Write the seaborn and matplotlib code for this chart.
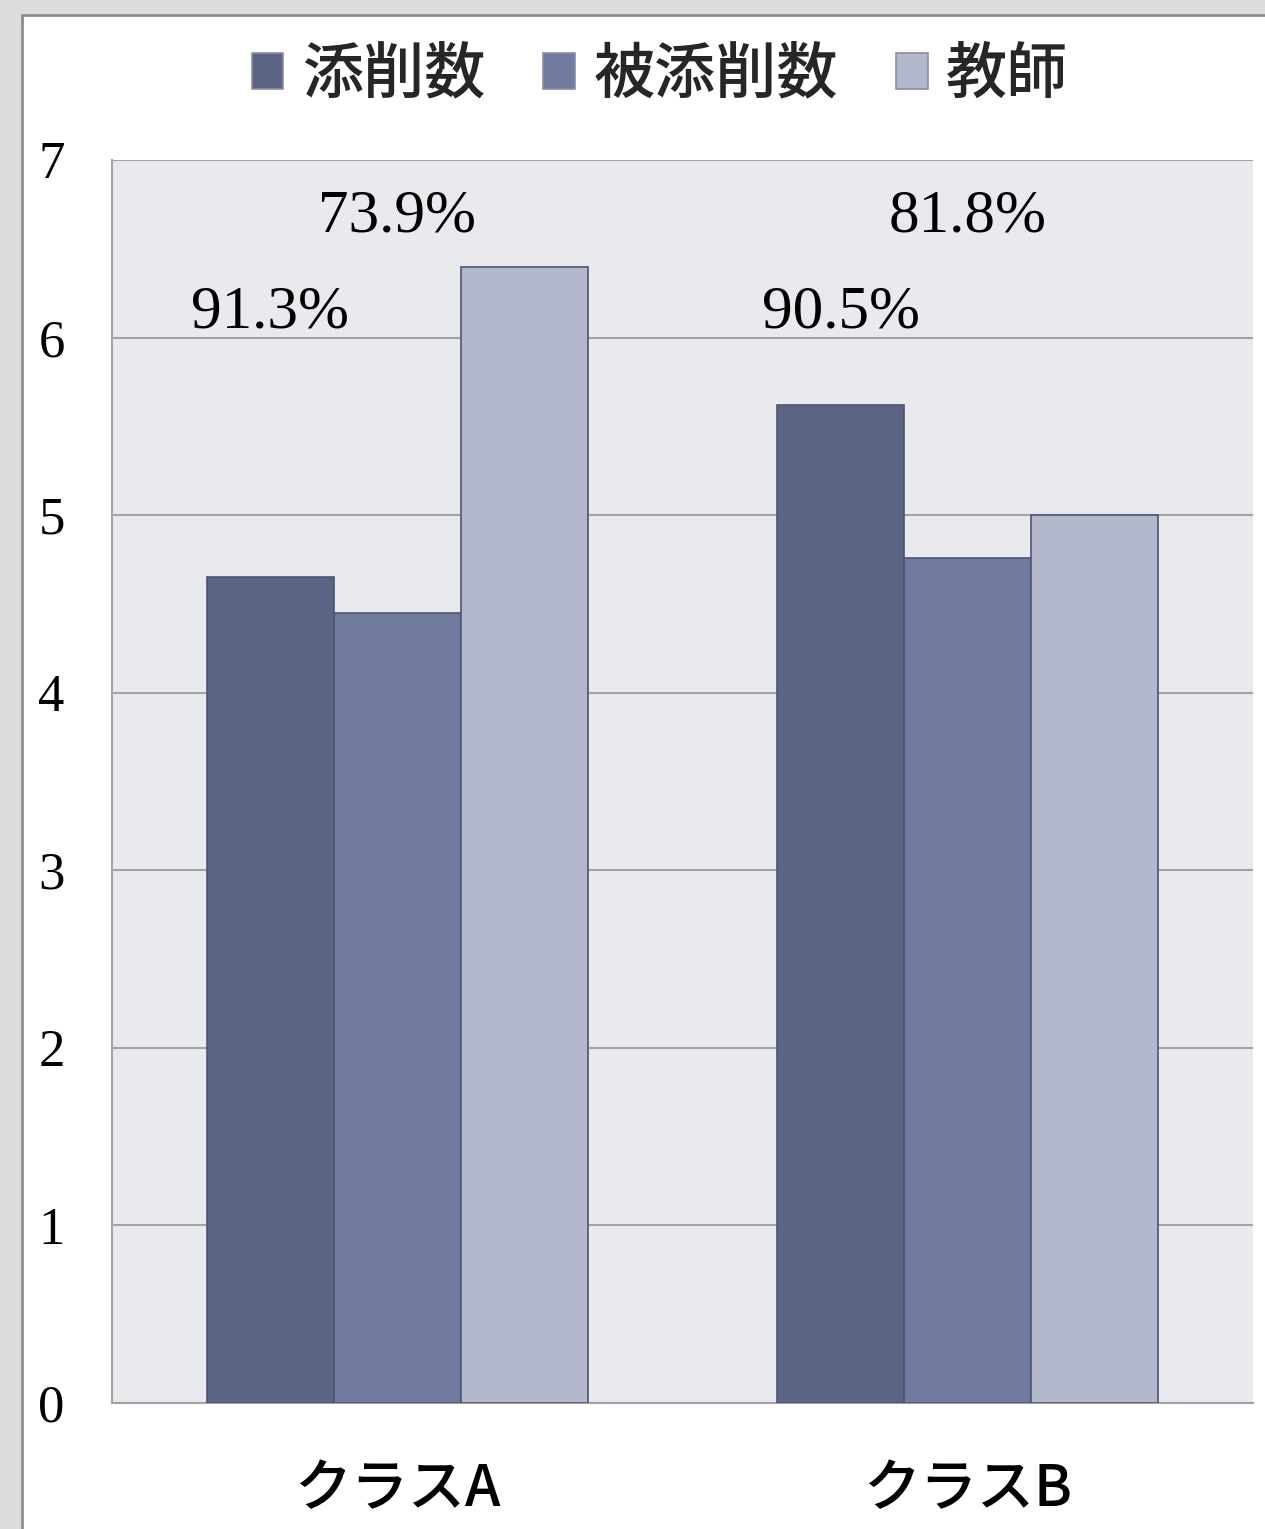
import pandas as pd
import matplotlib.pyplot as plt
import seaborn as sns
from matplotlib.patches import Patch, Rectangle

# data
classes = ['クラスA', 'クラスB']
series = ['添削数', '被添削数', '教師']
tensaku = [4.65, 5.62]
hi_tensaku = [4.45, 4.76]
kyoshi = [6.40, 5.00]
pct_labels = [['91.3%', '73.9%'], ['90.5%', '81.8%']]
colors = ['#5b6483', '#717ba0', '#b4b8cc']

df = pd.DataFrame({
    'class': classes * 3,
    'series': [s for s in series for _ in classes],
    'value': tensaku + hi_tensaku + kyoshi,
})

sns.set_theme(style='white')
plt.rcParams['font.family'] = ['Noto Sans CJK JP', 'DejaVu Sans']

fig = plt.figure(figsize=(12.65, 15.29), dpi=100)
fig.patch.set_facecolor('#dcdcdc')
# white panel with thin grey border
fig.patches.append(Rectangle((22 / 1265, -0.01), 1.0, (1529 - 15) / 1529 + 0.01,
                             transform=fig.transFigure, facecolor='white',
                             edgecolor='#8c8c8c', lw=2, zorder=-1))

ax = fig.add_axes([112 / 1265, 126 / 1529, (1253 - 112) / 1265, (1403 - 160) / 1529])
ax.set_facecolor('#e9eaee')

sns.barplot(data=df, x='class', y='value', hue='series', hue_order=series,
            palette=colors, saturation=1, width=0.667, gap=0,
            edgecolor='#4d5473', linewidth=1.2, legend=False, ax=ax, zorder=3)

ax.set_ylim(0, 7)
ax.set_xlim(-0.5, 1.5)
ax.set_yticks(range(8))
ax.yaxis.grid(True, color='#a3a3a3', lw=1.5, zorder=0)
ax.set_axisbelow(True)
for s in ['top', 'right']:
    ax.spines[s].set_visible(False)
for s in ['left', 'bottom']:
    ax.spines[s].set_color('#a3a3a3')
    ax.spines[s].set_linewidth(1.5)
ax.set_xlabel('')
ax.set_ylabel('')
ax.tick_params(axis='both', length=0)
ax.tick_params(axis='y', pad=34)
ax.tick_params(axis='x', pad=42)
for t in ax.get_yticklabels():
    t.set_family('Liberation Serif')
    t.set_fontsize(38)
    t.set_color('black')
for t in ax.get_xticklabels():
    t.set_fontsize(41)
    t.set_weight('medium')
    t.set_color('black')

# percentage labels above first two bars of each group
label_y = [6.14, 6.68]
for gi in range(len(classes)):
    for si in range(2):
        x = gi + (si - 1) * 0.667 / 3
        ax.text(x, label_y[si], pct_labels[gi][si], ha='center', va='center',
                family='Liberation Serif', fontsize=44, color='black')

handles = [Patch(facecolor=c, edgecolor='#8c8fa3', lw=1.2) for c in colors]
fig.legend(handles, series, loc='center', bbox_to_anchor=(660 / 1265, 1 - 75 / 1529),
           ncol=3, frameon=False, prop={'size': 44, 'weight': 'medium'},
           handlelength=0.52, handleheight=0.52, handletextpad=0.3, columnspacing=0.95)

fig.savefig('out.png', dpi=100, facecolor=fig.get_facecolor())
